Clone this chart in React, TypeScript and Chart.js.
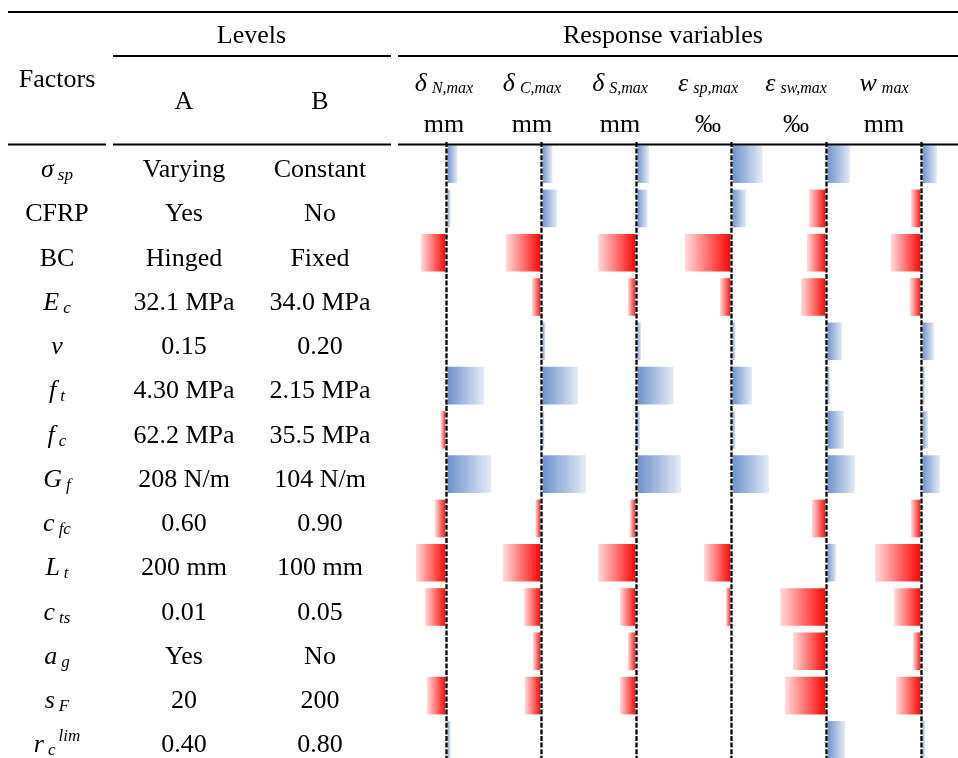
import React, { useEffect, useRef } from "react";
import { Chart, registerables } from "chart.js";

Chart.register(...registerables);

// ---- Table data ----
const factorMain = ["σ", "CFRP", "BC", "E", "v", "f", "f", "G", "c", "L", "c", "a", "s", "r"];
const factorSub = ["sp", "", "", "c", "", "t", "c", "f", "fc", "t", "ts", "g", "F", "c"];
const factorSup = ["", "", "", "", "", "", "", "", "", "", "", "", "", "lim"];
const factorItalic = [true, false, false, true, true, true, true, true, true, true, true, true, true, true];
const levelA = ["Varying", "Yes", "Hinged", "32.1 MPa", "0.15", "4.30 MPa", "62.2 MPa", "208 N/m", "0.60", "200 mm", "0.01", "Yes", "20", "0.40"];
const levelB = ["Constant", "No", "Fixed", "34.0 MPa", "0.20", "2.15 MPa", "35.5 MPa", "104 N/m", "0.90", "100 mm", "0.05", "No", "200", "0.80"];

const responseMain = ["δ", "δ", "δ", "ε", "ε", "w"];
const responseSub = ["N,max", "C,max", "S,max", "sp,max", "sw,max", "max"];
const responseUnit = ["mm", "mm", "mm", "‰", "‰", "mm"];

// ---- Effect values per response (one per factor row) ----
const deltaN = [11, 4, -25.5, 0, 0, 37.5, -5.5, 44.5, -11.5, -30.5, -21.5, 0, -19.5, 4];
const deltaC = [11, 15.5, -35.5, -9.5, 4, 36.5, 3, 44.5, -6, -38.5, -17.5, -8.5, -16.5, 0];
const deltaS = [12.5, 11, -38.5, -8.5, 4.5, 37, 3.5, 44.5, -6.5, -38.5, -16.5, -8.5, -16.5, 0];
const epsSp = [31, 14.5, -46.5, -11.5, 4, 20.5, 4, 37.5, 0, -27.5, -5.5, 0, 0, 0];
const epsSw = [23.5, -17.5, -19.5, -25.5, 15.5, 3.5, 17.5, 28.5, -14.5, 9.5, -46.5, -33.5, -41.5, 18.5];
const wMax = [15.5, -10.5, -30.5, -11.5, 12.5, 3.5, 6.5, 18.5, -10.5, -46.5, -27.5, -8.5, -25.5, 3.5];

const seriesList = [deltaN, deltaC, deltaS, epsSp, epsSw, wMax];
const rowKeys = factorMain.map((m, i) => m + factorSub[i] + factorSup[i]);

const FONT = "'Liberation Serif', 'Times New Roman', serif";

const zeroLinePlugin = {
  id: "zeroLine",
  afterDatasetsDraw(chart: any) {
    const { ctx, chartArea, scales } = chart;
    const x = scales.x.getPixelForValue(0);
    ctx.save();
    ctx.beginPath();
    ctx.moveTo(x, chartArea.top);
    ctx.lineTo(x, chartArea.bottom);
    ctx.strokeStyle = "#ffffff";
    ctx.lineWidth = 2.6;
    ctx.stroke();
    ctx.beginPath();
    ctx.setLineDash([5, 1.6]);
    ctx.moveTo(x, chartArea.top);
    ctx.lineTo(x, chartArea.bottom);
    ctx.strokeStyle = "#000000";
    ctx.lineWidth = 2.3;
    ctx.stroke();
    ctx.restore();
  },
};

function BarColumn({ values, left }: { values: number[]; left: number }) {
  const ref = useRef<HTMLCanvasElement>(null);
  useEffect(() => {
    if (!ref.current) return;
    const chart = new Chart(ref.current, {
      type: "bar",
      data: {
        labels: rowKeys,
        datasets: [
          {
            data: values,
            borderWidth: 0,
            barPercentage: 0.85,
            categoryPercentage: 1,
            backgroundColor: (c: any) => {
              const ch = c.chart;
              const xs = ch.scales && ch.scales.x;
              const v = c.raw as number;
              if (!xs || !ch.chartArea || v === undefined) return "rgba(0,0,0,0)";
              const x0 = xs.getPixelForValue(0);
              const x1 = xs.getPixelForValue(v);
              if (Math.abs(x1 - x0) < 0.01) return "rgba(0,0,0,0)";
              const g = ch.ctx.createLinearGradient(x0, 0, x1, 0);
              if (v < 0) {
                g.addColorStop(0, "#ff0000");
                g.addColorStop(1, "#ffdcdc");
              } else {
                g.addColorStop(0, "#6a8fc9");
                g.addColorStop(1, "#e4ebf6");
              }
              return g;
            },
          },
        ],
      },
      options: {
        indexAxis: "y",
        responsive: false,
        maintainAspectRatio: false,
        animation: false,
        devicePixelRatio: 1,
        layout: { padding: 0 },
        plugins: { legend: { display: false }, tooltip: { enabled: false } },
        scales: {
          x: { type: "linear", min: -47.5, max: 48.5, display: false },
          y: { type: "category", display: false, offset: true },
        },
      } as any,
      plugins: [zeroLinePlugin],
    });
    return () => chart.destroy();
  }, [values]);
  return (
    <canvas
      ref={ref}
      width={96}
      height={620}
      style={{ position: "absolute", left, top: 142, width: 96, height: 620 }}
    />
  );
}

const ROW0 = 177;
const PITCH = 44.25;
const COL_A = 184;
const COL_B = 320;
const COL_F = 57;

export default function App() {
  return (
    <div
      style={{
        position: "fixed",
        left: 0,
        top: 0,
        width: 958,
        height: 758,
        overflow: "hidden",
        background: "#ffffff",
      }}
    >
      {seriesList.map((s, k) => (
        <BarColumn key={k} values={s} left={399 + 95 * k} />
      ))}
      <svg
        width={958}
        height={758}
        style={{ position: "absolute", left: 0, top: 0, pointerEvents: "none" }}
        fontFamily={FONT}
      >
        {/* rules */}
        <line x1={8} y1={12} x2={958} y2={12} stroke="#000" strokeWidth={2} />
        <line x1={113} y1={56} x2={391} y2={56} stroke="#000" strokeWidth={2} />
        <line x1={398} y1={56} x2={958} y2={56} stroke="#000" strokeWidth={2} />
        <line x1={8} y1={144.5} x2={106} y2={144.5} stroke="#000" strokeWidth={2} />
        <line x1={113} y1={144.5} x2={391} y2={144.5} stroke="#000" strokeWidth={2} />
        <line x1={398} y1={144.5} x2={958} y2={144.5} stroke="#000" strokeWidth={2} />

        {/* headers */}
        <text x={251.5} y={43} textAnchor="middle" fontSize={26}>Levels</text>
        <text x={663} y={43} textAnchor="middle" fontSize={26}>Response variables</text>
        <text x={COL_F} y={87} textAnchor="middle" fontSize={26}>Factors</text>
        <text x={COL_A} y={109} textAnchor="middle" fontSize={26}>A</text>
        <text x={COL_B} y={109} textAnchor="middle" fontSize={26}>B</text>

        {responseMain.map((m, i) => (
          <text key={"rh" + i} x={444 + 88 * i} y={91} textAnchor="middle" fontSize={26} fontStyle="italic">
            {m}
            <tspan fontSize={16} dx={5} dy={1.5}>{responseSub[i]}</tspan>
          </text>
        ))}
        {responseUnit.map((u, i) => (
          <text key={"ru" + i} x={444 + 88 * i} y={132} textAnchor="middle" fontSize={26}>
            {u}
          </text>
        ))}

        {/* rows */}
        {factorMain.map((m, i) => {
          const y = ROW0 + PITCH * i;
          return (
            <g key={"row" + i}>
              <text
                x={COL_F}
                y={y}
                textAnchor="middle"
                fontSize={26}
                fontStyle={factorItalic[i] ? "italic" : "normal"}
              >
                {m}
                {factorSub[i] ? (
                  <tspan fontSize={17} dx={4} dy={3}>{factorSub[i]}</tspan>
                ) : null}
                {factorSup[i] ? (
                  <tspan fontSize={17} dx={3} dy={-14}>{factorSup[i]}</tspan>
                ) : null}
              </text>
              <text x={COL_A} y={y} textAnchor="middle" fontSize={26}>{levelA[i]}</text>
              <text x={COL_B} y={y} textAnchor="middle" fontSize={26}>{levelB[i]}</text>
            </g>
          );
        })}
      </svg>
    </div>
  );
}
